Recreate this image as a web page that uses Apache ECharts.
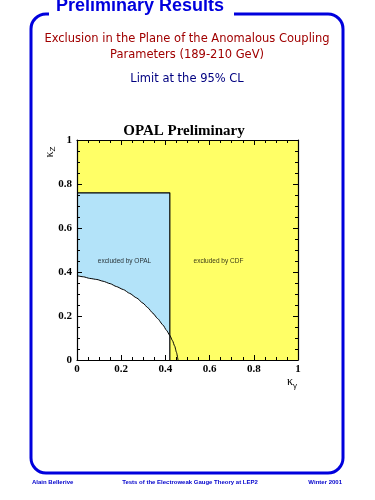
<!DOCTYPE html>
<html><head><meta charset="utf-8">
<script src="https://cdn.jsdelivr.net/npm/echarts@6/dist/echarts.min.js"></script>
<style>html,body{margin:0;padding:0;background:#fff}#c{width:375px;height:500px}</style>
</head><body><div id="c"></div>
<script>
// Axis ticks
const xTicks = [0, 0.2, 0.4, 0.6, 0.8, 1];
const yTicks = [0, 0.2, 0.4, 0.6, 0.8, 1];
// CDF excluded region (whole plane)
const cdfX = [0, 1];
const cdfY = [1, 1];
// OPAL excluded box
const opalX = [0, 0.42, 0.42];
const opalY = [0.76, 0.76, 0];
// Limit curve (95% CL)
const curveX = [0, 0.03, 0.057, 0.09, 0.118, 0.15, 0.178, 0.21, 0.238, 0.27, 0.299, 0.32, 0.344, 0.365, 0.389, 0.405, 0.42, 0.432, 0.442, 0.45, 0.457];
const curveY = [0.383, 0.378, 0.371, 0.366, 0.358, 0.347, 0.334, 0.32, 0.303, 0.282, 0.258, 0.238, 0.212, 0.188, 0.159, 0.135, 0.112, 0.088, 0.063, 0.035, 0];
// Region labels
const labelText = ['excluded by OPAL', 'excluded by CDF'];
const labelX = [0.215, 0.64];
const labelY = [0.45, 0.45];

const pairs = (xs, ys) => xs.map((x, i) => [x, ys[i]]);
const whiteFill = pairs(curveX, curveY).filter(p => p[0] <= 0.42).concat([[0.42, 0]]);

const chart = echarts.init(document.getElementById('c'), null, {renderer: 'canvas'});
const tickFont = {fontFamily: 'Liberation Serif', fontWeight: 'bold', fontSize: 11, color: '#000'};
const baseAxis = {
  type: 'value', min: 0, max: 1, interval: 0.2, z: 20,
  axisLine: {show: true, onZero: false, lineStyle: {color: '#000', width: 1.2}},
  axisTick: {show: true, inside: true, length: 5, lineStyle: {color: '#000'}},
  minorTick: {show: true, splitNumber: 4, length: 3, lineStyle: {color: '#000'}},
  splitLine: {show: false}
};
const fmt = v => String(v);
chart.setOption({
  animation: false,
  backgroundColor: '#fff',
  grid: {left: 77, right: 77, top: 140, bottom: 140, containLabel: false},
  xAxis: [
    Object.assign({}, baseAxis, {position: 'bottom', axisLabel: Object.assign({margin: 4, formatter: fmt}, tickFont)}),
    Object.assign({}, baseAxis, {position: 'top', axisLabel: {show: false}})
  ],
  yAxis: [
    Object.assign({}, baseAxis, {position: 'left', axisLabel: Object.assign({margin: 5, formatter: fmt}, tickFont)}),
    Object.assign({}, baseAxis, {position: 'right', axisLabel: {show: false}})
  ],
  series: [
    {type: 'line', data: pairs(cdfX, cdfY), symbol: 'none', lineStyle: {width: 0}, areaStyle: {color: '#ffff66', opacity: 1}, z: 1},
    {type: 'line', data: pairs(opalX, opalY), symbol: 'none', lineStyle: {width: 0}, areaStyle: {color: '#b3e3f9', opacity: 1}, z: 2},
    {type: 'line', data: whiteFill, symbol: 'none', lineStyle: {width: 0}, areaStyle: {color: '#ffffff', opacity: 1}, z: 3},
    {type: 'line', data: pairs(opalX, opalY), symbol: 'none', lineStyle: {color: '#000', width: 1.2}, z: 4},
    {type: 'line', data: pairs(curveX, curveY), symbol: 'none', smooth: 0.2, smoothMonotone: 'x', lineStyle: {color: '#000', width: 1}, z: 4},
    {type: 'scatter', data: labelX.map((x, i) => ({value: [x, labelY[i]], name: labelText[i]})), symbolSize: 0, z: 5,
     label: {show: true, position: 'inside', formatter: p => p.name, fontFamily: 'Liberation Sans', fontSize: 6.5, color: '#000'}}
  ],
  graphic: [
    {type: 'rect', shape: {x: 31, y: 14, width: 312, height: 459, r: 15}, style: {fill: 'none', stroke: '#0000dd', lineWidth: 3}, z: 10},
    {type: 'rect', shape: {x: 49, y: 0, width: 185, height: 20}, style: {fill: '#fff'}, z: 11},
    {type: 'text', x: 140, y: 6, style: {text: 'Preliminary Results', fontFamily: 'Liberation Sans', fontWeight: 'bold', fontSize: 18, fill: '#0000dd', align: 'center', verticalAlign: 'middle'}, z: 12},
    {type: 'text', x: 187, y: 39, style: {text: 'Exclusion in the Plane of the Anomalous Coupling', fontFamily: 'DejaVu Sans', fontSize: 11.5, fill: '#a00000', align: 'center', verticalAlign: 'middle'}, z: 12},
    {type: 'text', x: 187, y: 55, style: {text: 'Parameters (189-210 GeV)', fontFamily: 'DejaVu Sans', fontSize: 11.5, fill: '#a00000', align: 'center', verticalAlign: 'middle'}, z: 12},
    {type: 'text', x: 187, y: 79, style: {text: 'Limit at the 95% CL', fontFamily: 'DejaVu Sans', fontSize: 11.5, fill: '#000080', align: 'center', verticalAlign: 'middle'}, z: 12},
    {type: 'text', x: 184, y: 131, style: {text: 'OPAL Preliminary', fontFamily: 'Liberation Serif', fontWeight: 'bold', fontSize: 15, fill: '#000', align: 'center', verticalAlign: 'middle'}, z: 12},
    {type: 'text', x: 50, y: 152, rotation: Math.PI / 2, style: {text: '{k|κ}{s|Z}', align: 'center', verticalAlign: 'middle', rich: {k: {fontFamily: 'Liberation Serif', fontSize: 12, fill: '#000'}, s: {fontFamily: 'Liberation Sans', fontSize: 8, fill: '#000', padding: [6, 0, 0, 0]}}}, z: 12},
    {type: 'text', x: 292, y: 382, style: {text: '{k|κ}{s|γ}', align: 'center', verticalAlign: 'middle', rich: {k: {fontFamily: 'Liberation Serif', fontSize: 12, fill: '#000'}, s: {fontFamily: 'Liberation Sans', fontSize: 8, fill: '#000', padding: [8, 0, 0, 0]}}}, z: 12},
    {type: 'text', x: 32, y: 482, style: {text: 'Alain Bellerive', fontFamily: 'Liberation Sans', fontWeight: 'bold', fontSize: 6, fill: '#0000cc', align: 'left', verticalAlign: 'middle'}, z: 12},
    {type: 'text', x: 190, y: 482, style: {text: 'Tests of the Electroweak Gauge Theory at LEP2', fontFamily: 'Liberation Sans', fontWeight: 'bold', fontSize: 6, fill: '#0000cc', align: 'center', verticalAlign: 'middle'}, z: 12},
    {type: 'text', x: 342, y: 482, style: {text: 'Winter 2001', fontFamily: 'Liberation Sans', fontWeight: 'bold', fontSize: 6, fill: '#0000cc', align: 'right', verticalAlign: 'middle'}, z: 12}
  ]
});
</script></body></html>
